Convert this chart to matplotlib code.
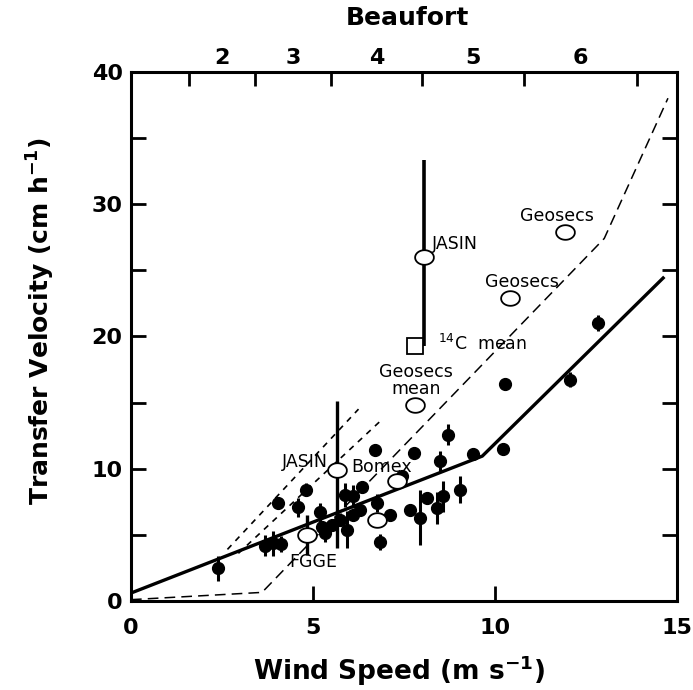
import numpy as np
import matplotlib.pyplot as plt
from matplotlib.path import Path
from matplotlib.ticker import FixedLocator, NullFormatter

plt.rcParams['font.family'] = ['DejaVu Sans']
plt.rcParams['mathtext.default'] = 'regular'

# Individual transfer velocity measurements (filled points with error bars)
wind = [2.40, 3.68, 3.91, 4.11, 4.05, 4.60, 4.80, 5.19, 5.24, 5.33, 5.51, 5.74,
        5.88, 6.11, 5.93, 6.11, 6.29, 6.35, 6.70, 6.75, 6.84, 7.12, 7.44, 7.77,
        7.66, 7.94, 8.13, 8.40, 8.57, 8.50, 8.70, 9.04, 9.40, 10.22, 10.28,
        12.06, 12.83]
k_obs = [2.47, 4.19, 4.37, 4.32, 7.40, 7.07, 8.41, 6.69, 5.63, 5.13, 5.76, 6.14,
         8.03, 7.90, 5.38, 6.52, 6.89, 8.65, 11.44, 7.40, 4.49, 6.52, 9.42, 11.20,
         6.85, 6.30, 7.80, 7.05, 7.90, 10.55, 12.58, 8.41, 11.10, 11.50, 16.40,
         16.74, 21.00]
k_err = [0.95, 0.8, 0.95, 0.6, 0.3, 0.7, 0.5, 0.7, 0.3, 0.7, 0.4, 0.5,
         0.9, 0.9, 1.4, 0.4, 0.4, 0.4, 0.4, 0.7, 0.6, 0.4, 0.4, 0.4,
         0.4, 2.1, 0.4, 1.2, 1.2, 0.8, 0.8, 1.0, 0.4, 0.3, 0.3,
         0.6, 0.6]

# Mean values from experiments (open circles)
exp_wind = [11.92, 10.41, 7.80, 8.05, 5.65, 7.30, 4.83, 6.77]
exp_k = [27.9, 22.9, 14.85, 26.0, 9.92, 9.04, 5.0, 6.1]
exp_lo = [0, 0, 0, 0, 5.92, 0, 1.5, 0]
exp_hi = [0, 0, 0, 0, 5.18, 0, 1.5, 0]

# 14C mean and JASIN range
c14_wind, c14_k = 7.80, 19.3
jasin_wind = 8.05
jasin_range = [19.3, 33.3]

# Relationships
solid_u = [0, 9.65, 14.65]
solid_k = [0.6, 10.95, 24.5]
lm_u = [0, 3.6, 13.0, 14.75]
lm_k = [0.1, 0.65, 27.4, 38.0]
short1_u = [2.65, 6.25]
short1_k = [3.9, 14.5]
short2_u = [2.95, 6.85]
short2_k = [3.6, 13.6]

# Beaufort scale
beaufort_edges = [1.6, 3.4, 5.5, 8.0, 10.8, 13.9]
beaufort_mid = [2.5, 4.45, 6.75, 9.4, 12.35]
beaufort_labels = ['2', '3', '4', '5', '6']

fig = plt.figure(figsize=(6.93, 6.9), dpi=100)
ax = fig.add_axes([0.189, 0.129, 0.788, 0.767])

ax.plot(solid_u, solid_k, color='black', lw=2.4, solid_capstyle='butt')
ax.plot(lm_u, lm_k, color='black', lw=1.1, dashes=(7, 4))
ax.plot(short1_u, short1_k, color='black', lw=1.2, dashes=(3.5, 3.5))
ax.plot(short2_u, short2_k, color='black', lw=1.2, dashes=(3.5, 3.5))

ax.errorbar(wind, k_obs, yerr=k_err, fmt='o', color='black', ms=8.5,
            elinewidth=2.2, capsize=0, zorder=3)

t = np.linspace(0, 2 * np.pi, 60)
ellipse = Path(np.column_stack([np.cos(t), 0.78 * np.sin(t)]))
ax.vlines(jasin_wind, *jasin_range, color='black', lw=2.6, zorder=3)
ax.errorbar(exp_wind, exp_k, yerr=[exp_lo, exp_hi], fmt='none', ecolor='black',
            elinewidth=2.4, capsize=0, zorder=3)
ax.plot(exp_wind, exp_k, ls='none', marker=ellipse, ms=13.5, mfc='white',
        mec='black', mew=1.3, zorder=4)
ax.plot(c14_wind, c14_k, ls='none', marker='s', ms=11, mfc='white',
        mec='black', mew=1.3, zorder=4)

lab = dict(fontsize=12.5)
ax.text(11.7, 29.1, 'Geosecs', ha='center', va='center', **lab)
ax.text(10.75, 24.1, 'Geosecs', ha='center', va='center', **lab)
ax.text(7.83, 17.3, 'Geosecs', ha='center', va='center', **lab)
ax.text(7.83, 16.0, 'mean', ha='center', va='center', **lab)
ax.text(8.27, 27.0, 'JASIN', ha='left', va='center', **lab)
ax.text(8.43, 19.4, '$^{14}$C  mean', ha='left', va='center', **lab)
ax.text(5.4, 10.5, 'JASIN', ha='right', va='center', **lab)
ax.text(6.05, 10.1, 'Bomex', ha='left', va='center', **lab)
ax.text(5.0, 2.95, 'FGGE', ha='center', va='center', **lab)

ax.set_xlim(0, 15)
ax.set_ylim(0, 40)
ax.set_xticks([0, 5, 10, 15])
ax.set_yticks([0, 10, 20, 30, 40])
ax.yaxis.set_minor_locator(FixedLocator([5, 15, 25, 35]))
ax.tick_params(axis='both', which='major', direction='in', length=11, width=2,
               labelsize=16, right=True)
ax.tick_params(axis='x', which='major', pad=12)
ax.tick_params(axis='y', which='major', pad=6)
ax.tick_params(axis='y', which='minor', direction='in', length=11, width=2,
               right=True)
for lbl in ax.get_xticklabels() + ax.get_yticklabels():
    lbl.set_fontweight('bold')
for sp in ax.spines.values():
    sp.set_linewidth(2.2)

top = ax.twiny()
top.set_xlim(0, 15)
top.set_xticks(beaufort_edges)
top.xaxis.set_major_formatter(NullFormatter())
top.set_xticks(beaufort_mid, minor=True)
top.set_xticklabels(beaufort_labels, minor=True, fontsize=16, fontweight='bold')
top.tick_params(axis='x', which='major', direction='in', length=10, width=2)
top.tick_params(axis='x', which='minor', length=0, pad=3)
top.set_xlabel('Beaufort', fontsize=18, fontweight='bold')
top.xaxis.set_label_coords(0.507, 1.088)

ax.set_xlabel('Wind Speed (m s$^{-1}$)', fontsize=19, fontweight='bold')
ax.xaxis.set_label_coords(0.491, -0.1)
ax.set_ylabel('Transfer Velocity (cm h$^{-1}$)', fontsize=18, fontweight='bold')
ax.yaxis.set_label_coords(-0.136, 0.53)

fig.savefig('out.png', dpi=100)
